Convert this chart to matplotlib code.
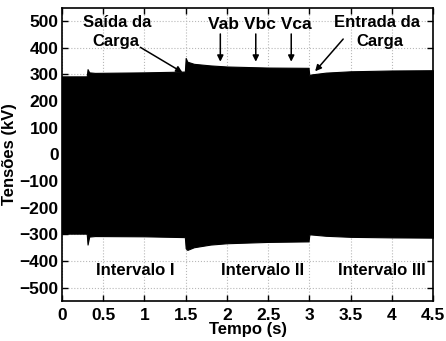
import matplotlib
matplotlib.use("Agg")
import matplotlib.pyplot as plt
import numpy as np

plt.rcParams['font.family'] = ['Liberation Sans', 'DejaVu Sans']
plt.rcParams['font.weight'] = 'bold'
plt.rcParams['font.size'] = 12

# envelope of the three-phase voltages (kV)
t_env = [0, 0.30, 0.31, 0.33, 0.40, 1.0, 1.49, 1.50, 1.52, 1.6, 1.8, 2.0, 2.5, 2.99, 3.0, 3.02, 3.2, 3.5, 4.0, 4.5]
v_up = [293, 293, 320, 308, 306, 308, 311, 362, 348, 340, 334, 330, 326, 325, 295, 300, 307, 312, 315, 316]
v_lo = [-297, -297, -338, -308, -306, -307, -310, -352, -358, -348, -338, -333, -328, -326, -300, -300, -305, -309, -311, -312]

xticks = [0, 0.5, 1, 1.5, 2, 2.5, 3, 3.5, 4, 4.5]
xticklabels = ['0', '0.5', '1', '1.5', '2', '2.5', '3', '3.5', '4', '4.5']
yticks = [-500, -400, -300, -200, -100, 0, 100, 200, 300, 400, 500]

fig = plt.figure(figsize=(4.46, 3.41), dpi=100)
ax = fig.add_axes([0.139, 0.117, 0.832, 0.860])

ax.fill_between(t_env, v_lo, v_up, color='black', linewidth=0.8, edgecolor='black', zorder=2)

ax.set_xlim(0, 4.5)
ax.set_ylim(-550, 550)
ax.set_xticks(xticks)
ax.set_xticklabels(xticklabels)
ax.set_yticks(yticks)
ax.grid(True, color='#b8b8b8', linestyle=':', linewidth=0.8, zorder=0)
ax.tick_params(direction='in', top=True, right=True, length=4, width=1, labelsize=12.5)
ax.tick_params(axis='y', pad=2.5)
ax.tick_params(axis='x', pad=5)
for s in ax.spines.values():
    s.set_linewidth(1.2)

ax.set_xlabel('Tempo (s)', fontweight='bold', fontsize=12, labelpad=-1)
ax.set_ylabel('Tensões (kV)', fontweight='bold', fontsize=12, labelpad=2)

arrow = dict(arrowstyle='-|>', color='black', lw=1.1, mutation_scale=9, shrinkA=0, shrinkB=0)

ax.text(0.67, 495, 'Saída da', ha='center', va='center', fontweight='bold')
ax.text(0.65, 423, 'Carga', ha='center', va='center', fontweight='bold')
ax.annotate('', xy=(1.46, 308), xytext=(0.95, 402), arrowprops=arrow)

ax.text(2.40, 486, 'Vab Vbc Vca', ha='center', va='center', fontweight='bold', fontsize=12.5)
for x in [1.92, 2.35, 2.78]:
    ax.annotate('', xy=(x, 348), xytext=(x, 452), arrowprops=arrow)

ax.text(3.82, 494, 'Entrada da', ha='center', va='center', fontweight='bold')
ax.text(3.85, 422, 'Carga', ha='center', va='center', fontweight='bold')
ax.annotate('', xy=(3.07, 312), xytext=(3.41, 433), arrowprops=arrow)

ax.text(0.89, -435, 'Intervalo I', ha='center', va='center', fontweight='bold')
ax.text(2.43, -435, 'Intervalo II', ha='center', va='center', fontweight='bold')
ax.text(3.88, -435, 'Intervalo III', ha='center', va='center', fontweight='bold')

fig.savefig('out.png', dpi=100)
